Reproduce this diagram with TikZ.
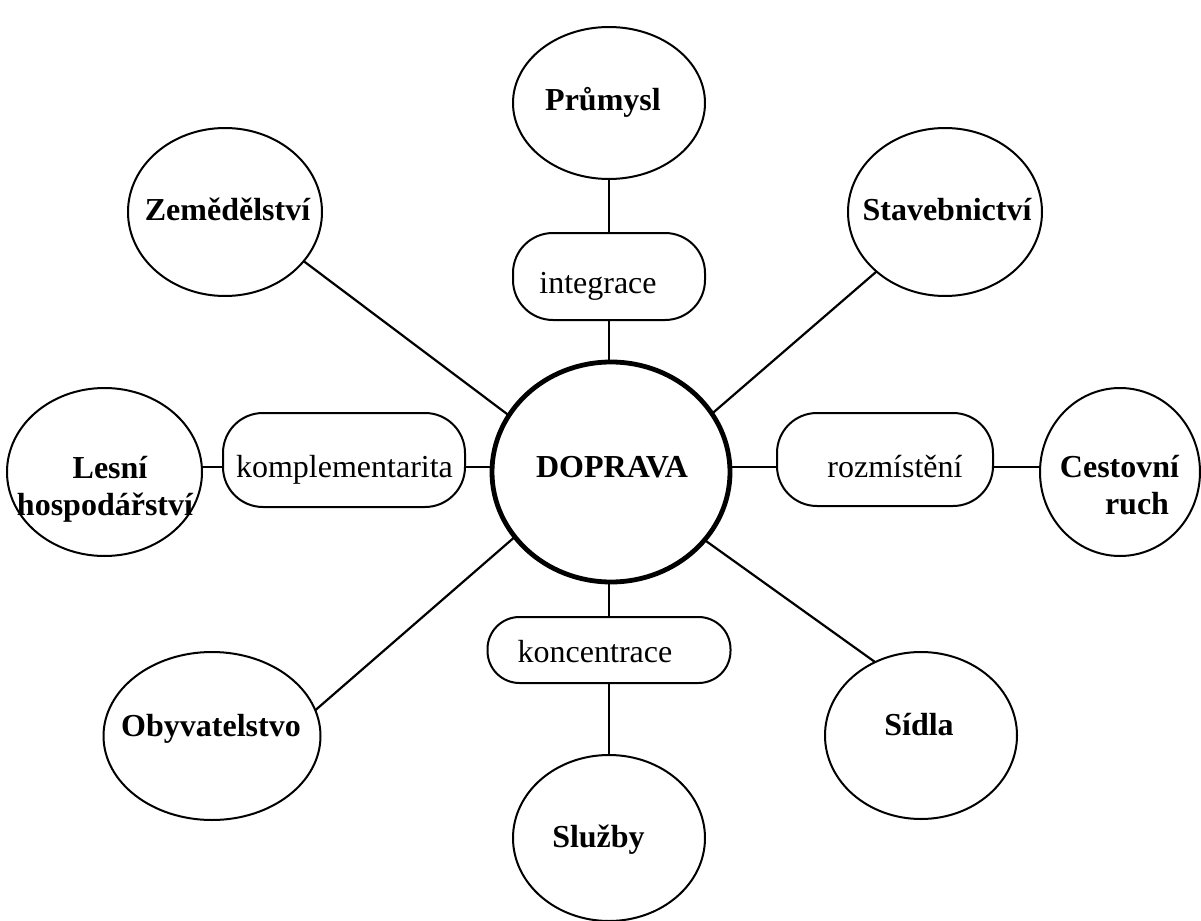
\documentclass[tikz,border=0pt]{standalone}
\usepackage{fontspec}
\setmainfont{Liberation Serif}
\usetikzlibrary{shapes.geometric}
\begin{document}
\begin{tikzpicture}[x=0.5pt,y=-0.5pt,
  oval/.style={draw, ellipse, line width=1pt, inner sep=0pt, outer sep=0pt},
  pill/.style={draw, rectangle, rounded corners=20pt, line width=1pt, inner sep=0pt, outer sep=0pt},
  conn/.style={line width=1.1pt},
  bl/.style={anchor=base, inner sep=0pt, font=\fontsize{16}{19}\selectfont\bfseries},
  rl/.style={anchor=base, inner sep=0pt, font=\fontsize{16}{19}\selectfont}]
\useasboundingbox (0,0) rectangle (1201,921);
% shapes
\node[oval, minimum width=96pt, minimum height=76pt] (prum) at (609,103) {};
\node[oval, minimum width=97pt, minimum height=84pt] (zem) at (225,212) {};
\node[oval, minimum width=97pt, minimum height=84pt] (stav) at (945,212) {};
\node[oval, minimum width=97.5pt, minimum height=84pt] (les) at (104.5,472) {};
\node[oval, minimum width=80pt, minimum height=84pt] (cest) at (1120,472) {};
\node[draw, ellipse, line width=2.4pt, inner sep=0pt, outer sep=0pt, minimum width=119pt, minimum height=110pt] (dop) at (611,472) {};
\node[oval, minimum width=108.5pt, minimum height=84pt] (obyv) at (212,736) {};
\node[oval, minimum width=96pt, minimum height=83.5pt] (sidla) at (921,735.5) {};
\node[oval, minimum width=96pt, minimum height=83pt] (slu) at (609,838) {};
\node[pill, minimum width=96pt, minimum height=43.5pt] (integ) at (609,276.5) {};
\node[pill, minimum width=121pt, minimum height=47pt] (komp) at (344,460) {};
\node[pill, minimum width=108pt, minimum height=46.5pt] (rozm) at (885,459.5) {};
\node[pill, rounded corners=16pt, minimum width=121.5pt, minimum height=33pt] (konc) at (609,650) {};
% texts
\node[bl] (tprum) at (603,110) {Průmysl};
\node[rl] (tinteg) at (598,293) {integrace};
\node[bl] (tzem) at (227.5,220) {Zemědělství};
\node[bl] (tstav) at (947,220) {Stavebnictví};
\node[bl] (tdop) at (612,477) {DOPRAVA};
\node[bl] (tles1) at (110,478) {Lesní};
\node[bl] (tles2) at (105,515) {hospodářství};
\node[rl] (tkomp) at (344.5,477) {komplementarita};
\node[rl] (trozm) at (895,477) {rozmístění};
\node[bl] (tcest1) at (1119.5,477) {Cestovní};
\node[bl] (tcest2) at (1137,514) {ruch};
\node[rl] (tkonc) at (595,662) {koncentrace};
\node[bl] (tobyv) at (211,736) {Obyvatelstvo};
\node[bl] (tsidla) at (919,735) {Sídla};
\node[bl] (tslu) at (598.5,847) {Služby};
% connectors
\coordinate (hl) at (0,467);
\draw[conn] (prum.south) -- (integ.north);
\draw[conn] (integ.south) -- (integ.south |- dop.north);
\draw[conn] (konc.north |- dop.south) -- (konc.north);
\draw[conn] (konc.south) -- (slu.north);
\draw[conn] (les.east |- hl) -- (komp.west |- hl);
\draw[conn] (komp.east |- hl) -- (dop.west |- hl);
\draw[conn] (dop.east |- hl) -- (rozm.west |- hl);
\draw[conn] (rozm.east |- hl) -- (cest.west |- hl);
\draw[conn] (zem.-32) -- (dop.151);
\draw[conn] (stav.221.6) -- (dop.30.3);
\draw[conn] (obyv.14.8) -- (dop.214.8);
\draw[conn] (sidla.122.3) -- (dop.-36.1);
\end{tikzpicture}
\end{document}
